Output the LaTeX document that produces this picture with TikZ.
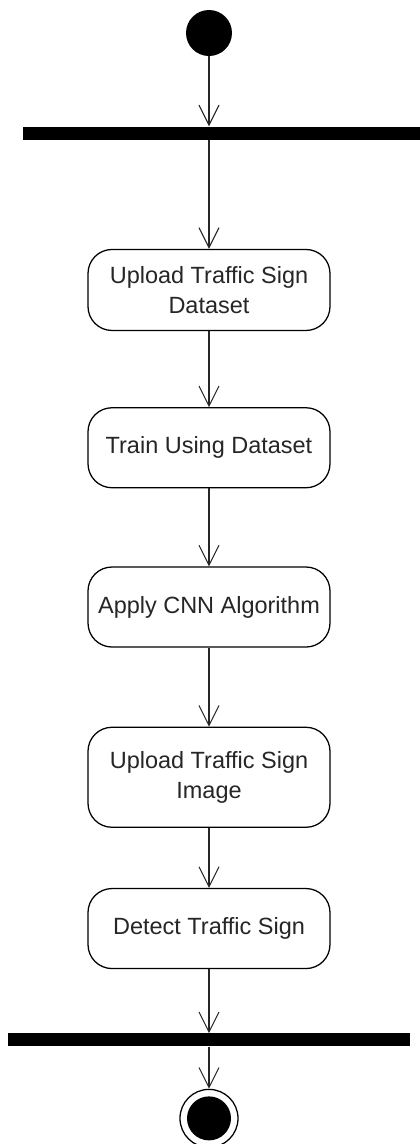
\documentclass[tikz,border=0pt]{standalone}
\usepackage{fontspec}
\setmainfont{Liberation Sans}
\usetikzlibrary{positioning, arrows.meta}

\begin{document}
\begin{tikzpicture}[
  >={Straight Barb[length=0.5cm, width=0.5cm]},
  activity/.style={
    rectangle, rounded corners=0.6cm, draw=black, line width=0.9pt,
    fill=white, minimum width=6.05cm, minimum height=2cm,
    align=center, inner sep=2pt, text=black!85,
    font=\fontsize{16.7}{21.3}\selectfont
  },
  syncbar/.style={
    rectangle, fill=black, inner sep=0pt, minimum height=0.325cm
  },
  flow/.style={->, line width=0.75pt, black!85},
]

\useasboundingbox (-5.225,0.825) rectangle (5.25,-27.775);

% Start
\node[circle, fill=black, inner sep=0pt, minimum size=1.15cm] (start) at (0,0) {};

% Fork bar
\node[syncbar, minimum width=9.925cm, below=1.75cm of start, xshift=0.3125cm] (fork) {};

% Activities
\node[activity, minimum height=2.025cm, anchor=north, yshift=-2.725cm]
  at (start |- fork.south) (upload) {Upload Traffic Sign\\Dataset};
\node[activity, below=1.9cm of upload] (train) {Train Using Dataset};
\node[activity, below=1.95cm of train] (cnn) {Apply CNN Algorithm};
\node[activity, minimum height=2.5cm, below=1.975cm of cnn] (image)
  {Upload Traffic Sign\\Image};
\node[activity, below=1.5cm of image] (detect) {Detect Traffic Sign};

% Join bar
\node[syncbar, minimum width=10.025cm, below=1.6cm of detect] (join) {};

% End
\node[circle, draw=black, line width=0.9pt, minimum size=1.45cm, inner sep=0pt,
  below=1.05cm of join] (stop) {};
\node[circle, fill=black, inner sep=0pt, minimum size=1.1cm] at (stop) (stopdot) {};

% Flows
\draw[flow] (start) -- (start |- fork.north);
\draw[flow] (upload |- fork.south) -- (upload.north);
\draw[flow] (upload) -- (train);
\draw[flow] (train) -- (cnn);
\draw[flow] (cnn) -- (image);
\draw[flow] (image) -- (detect);
\draw[flow] (detect) -- (join);
\draw[flow] (join) -- (stop);

\end{tikzpicture}
\end{document}
